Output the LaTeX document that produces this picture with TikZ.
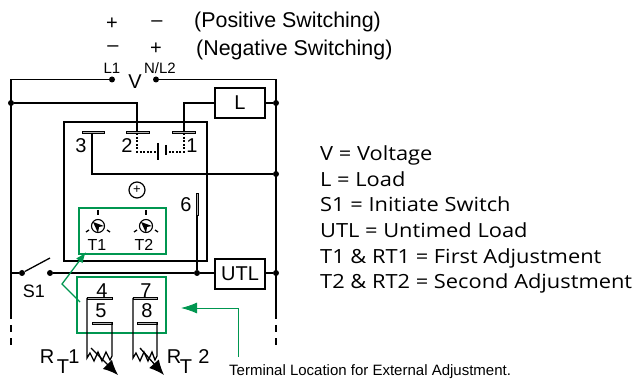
\documentclass[tikz,border=0pt]{standalone}
\usepackage{fontspec}
\setmainfont{Liberation Sans}
\newfontfamily\legendfont[FakeStretch=1.12]{Open Sans}
\usetikzlibrary{arrows.meta}
\definecolor{grn}{RGB}{0,150,80}
\tikzset{
  wire/.style={line width=1.3pt},
  dot/.style={circle,fill=black,inner sep=0pt,minimum size=6pt},
  loadbox/.style={draw,line width=1.3pt,minimum height=30pt,minimum width=50pt,inner sep=0pt,font=\fontsize{20}{20}\selectfont},
  contact/.style={draw=black,fill=gray!60,line width=.4pt},
  legend/.style={anchor=base west,inner sep=0pt,font=\legendfont\fontsize{19.5}{19.5}\selectfont},
  lbl/.style={inner sep=0pt,font=\fontsize{20}{20}\selectfont},
  small/.style={inner sep=0pt,font=\fontsize{15}{15}\selectfont},
  greenbox/.style={draw=grn,line width=1.3pt},
}
\begin{document}
\begin{tikzpicture}[x=1pt,y=-1pt]
\useasboundingbox (0,0) rectangle (635,382);
% supply
\node[lbl] (p1) at (112,24) {+};
\node[lbl] (m1) at (157,24) {--};
\node[lbl] (m2) at (113,49) {--};
\node[lbl] (p2) at (156,49) {+};
\node[lbl,anchor=west,font=\fontsize{21.4}{21.4}\selectfont] (pos) at (194,22) {(Positive Switching)};
\node[lbl,anchor=west,font=\fontsize{21.4}{21.4}\selectfont] (neg) at (196,50) {(Negative Switching)};
\node[small] (l1) at (112,68) {L1};
\node[small] (n2) at (160,68) {N/L2};
\node[lbl] (v) at (135,82) {V};
\node[dot] (a) at (112,79.5) {};
\node[dot] (b) at (156,79.5) {};
\node[dot] (c) at (11,103) {};
\node[dot] (d) at (276,103) {};
\node[dot] (e) at (276,174) {};
\node[dot] (f) at (197,273) {};
\node[dot] (g) at (276,273) {};
\node[dot] (s1a) at (22,273) {};
\node[dot] (s1b) at (50,273) {};
\node[loadbox] (L) at (240,103) {L};
\node[loadbox] (UTL) at (240,274) {UTL};
\draw[wire] (a) -- (11,79.5) -- (11,319);
\draw[wire] (b) -- (276,79.5) -- (276,319);
\draw[wire,dash pattern=on 7pt off 6pt] (11,325) -- (11,351);
\draw[wire,dash pattern=on 7pt off 6pt] (276,325) -- (276,351);
\draw[wire] (c) -- (137,103) -- (137,131);
\draw[wire] (L) -- (184,103) -- (184,131);
\draw[wire] (L.east) -- (d);
\draw[wire] (64,122) rectangle (207,261);
% contacts
\draw[contact] (82,131) rectangle (104,133);
\draw[contact] (126,131) rectangle (149,133);
\draw[contact] (172,131) rectangle (195,133);
\node[lbl] (t3) at (81,146) {3};
\node[lbl] (t2) at (127,146) {2};
\node[lbl] (t1) at (192,146) {1};
\draw[wire] (92,133) -- (92,174) -- (e);
\draw[wire,dash pattern=on 2pt off 1.6pt] (137,133) -- (137,152) -- (156,152);
\draw[wire,dash pattern=on 2pt off 1.6pt] (184,133) -- (184,152) -- (168,152);
\draw[wire] (158,143) -- (158,160);
\draw[wire] (166,145) -- (166,155);
% timer
\draw[line width=1.2pt] (137,190) circle (8pt);
\node[inner sep=0pt,font=\fontsize{13}{13}\selectfont] (plus) at (137,190) {+};
\node[lbl] (t6) at (186,205) {6};
\draw[contact] (196,193) rectangle (198,215);
\draw[wire] (197,215) -- (f);
\draw[greenbox] (79,208) rectangle (166,254);
\foreach \n/\x/\tx in {T1/98/97,T2/146/144}{
  \draw[line width=1.1pt] (\x,226) circle (6.5pt);
  \fill (\x-5,222) -- (\x+6,226) -- (\x+1,227) -- (\x,233) -- cycle;
  \draw[wire] (\x,210) -- (\x,215);
  \draw[wire] (\x-9,230) -- (\x-12,232);
  \draw[wire] (\x+9,230) -- (\x+12,232);
  \node[inner sep=0pt,font=\fontsize{16}{16}\selectfont] (\n) at (\tx,245) {\n};
}
% switch
\draw[wire] (11,273) -- (s1a);
\draw[wire] (s1a) -- (50,258);
\draw[wire] (s1b) -- (f) -- (215,273);
\draw[wire] (265,273) -- (g);
\node[inner sep=0pt,font=\fontsize{18}{18}\selectfont] (s1) at (34,291) {S1};
% external terminals
\draw[greenbox] (77,277) rectangle (166,333);
\node[lbl] (t4) at (102,291) {4};
\node[lbl] (t7) at (146,291) {7};
\node[lbl] (t5) at (101,311) {5};
\node[lbl] (t8) at (147,311) {8};
\draw[contact] (87,297) rectangle (112,299);
\draw[contact] (133,297) rectangle (157,299);
\draw[contact] (92,322) rectangle (112,324);
\draw[contact] (137,322) rectangle (157,324);
\draw[wire] (87,298) -- (87,358) -- (90,353) -- (94,361) -- (98,352) -- (102,361) -- (106,352) -- (110,360) -- (112,356) -- (112,323);
\draw[wire] (133,298) -- (133,358) -- (136,353) -- (140,361) -- (144,352) -- (148,361) -- (152,352) -- (155,360) -- (157,356) -- (157,323);
\draw[line width=1.3pt,-{Latex[length=15pt,width=13pt]}] (91,348) -- (118,375);
\draw[line width=1.3pt,-{Latex[length=15pt,width=13pt]}] (140,348) -- (164,375);
\node[lbl] (rt1r) at (47,357) {R};
\node[lbl] (rt1t) at (63,367) {T};
\node[lbl] (rt1n) at (74,357) {1};
\node[lbl] (rt2r) at (174,357) {R};
\node[lbl] (rt2t) at (186,367) {T};
\node[lbl] (rt2n) at (204,357) {2};
% green arrows
\coordinate (g1) at (80,302);
\coordinate (g2) at (62,284);
\coordinate (g3) at (86,252);
\draw[draw=grn,line width=1.3pt,-{Latex[length=11pt,width=8pt,color=grn]}] (g1) -- (g2) -- (g3);
\coordinate (g4) at (238,357);
\coordinate (g5) at (238,308);
\coordinate (g6) at (181,308);
\draw[draw=grn,line width=.9pt,-{Latex[length=16pt,width=11pt,color=grn]}] (g4) -- (g5) -- (g6);
\node[inner sep=0pt,anchor=west,font=\fontsize{15}{15}\selectfont] (term) at (229,372) {Terminal Location for External Adjustment.};
% legend
\node[legend] (lv) at (320,160.7) {V = Voltage};
\node[legend] (ll) at (320,186.7) {L = Load};
\node[legend] (ls) at (320,211.7) {S1 = Initiate Switch};
\node[legend] (lu) at (320,237.3) {UTL = Untimed Load};
\node[legend] (lt) at (320,263.3) {T1 \& RT1 = First Adjustment};
\node[legend] (lr) at (320,288.3) {T2 \& RT2 = Second Adjustment};
\end{tikzpicture}
\end{document}
